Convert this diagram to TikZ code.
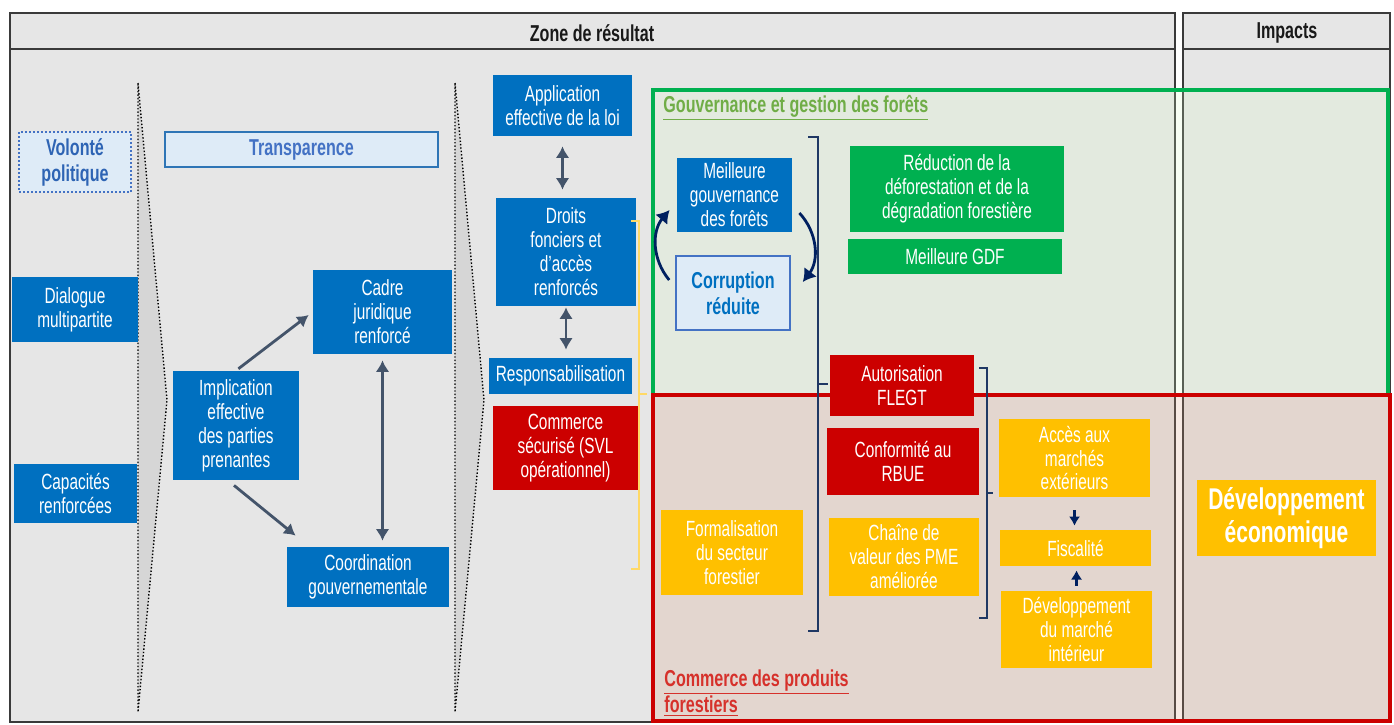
\documentclass[tikz,border=0pt]{standalone}
\usepackage{fontspec}
\setmainfont{Liberation Sans}[FakeStretch=0.7]
\usepackage{xcolor}
\usetikzlibrary{arrows.meta,positioning,calc}

\definecolor{boxblue}{HTML}{0070C0}
\definecolor{boxred}{HTML}{CC0000}
\definecolor{boxyellow}{HTML}{FFC000}
\definecolor{boxgreen}{HTML}{00B050}
\definecolor{paleblue}{HTML}{DEEBF7}
\definecolor{volblue}{HTML}{2E64B4}
\definecolor{dotblue}{HTML}{4472C4}
\definecolor{edgeblue}{HTML}{2E75B6}
\definecolor{arrowgray}{HTML}{44546A}
\definecolor{navy}{HTML}{1F3864}
\definecolor{cycnavy}{HTML}{002060}
\definecolor{panelgray}{HTML}{E6E6E6}
\definecolor{panelline}{HTML}{3A3A3A}
\definecolor{chevgray}{HTML}{D6D6D6}
\definecolor{greentitle}{HTML}{70AD47}
\definecolor{redtitle}{HTML}{D6312B}
\definecolor{bracketyellow}{HTML}{FFD966}
\definecolor{greentint}{RGB}{215,250,195}
\definecolor{redtint}{RGB}{215,150,115}

\begin{document}
\begin{tikzpicture}[x=0.5pt, y=-0.5pt,
  box/.style={align=center, inner sep=1pt, text=white, font=\fontsize{11}{12}\selectfont},
  bluebox/.style={box, fill=boxblue},
  redbox/.style={box, fill=boxred},
  yellowbox/.style={box, fill=boxyellow},
  greenbox/.style={box, fill=boxgreen},
  palebox/.style={box, fill=paleblue, font=\fontsize{11.5}{13}\selectfont\bfseries},
  panel/.style={draw=panelline, line width=0.8pt, fill=panelgray},
  chevron/.style={fill=chevgray, draw=black, densely dotted, line width=0.7pt},
  arrow/.style={-{Latex[length=2mm,width=2.4mm]}, line width=1.4pt, draw=arrowgray},
  twoarrow/.style={{Latex[length=2mm,width=2.4mm]}-{Latex[length=2mm,width=2.4mm]}, line width=1.4pt, draw=arrowgray},
  cycarrow/.style={-{Latex[length=2.2mm,width=2.8mm]}, line width=1.4pt, draw=cycnavy},
  smallarrow/.style={-{Latex[length=1.6mm,width=2mm]}, line width=1.4pt, draw=cycnavy},
  bracket/.style={line width=0.6pt},
  title/.style={font=\fontsize{11.5}{13}\selectfont\bfseries, inner sep=0pt}
]
\useasboundingbox (0,0) rectangle (1394,724);

\draw[panel] (10,13) rectangle (1175,722);
\draw[panelline, line width=0.8pt] (10,49) -- (1175,49);
\node[title, text=black!90] (zone) at (592,33) {Zone de résultat};
\draw[panel] (1183,13) rectangle (1390,722);
\draw[panelline, line width=0.8pt] (1183,49) -- (1390,49);
\node[title, text=black!90] (impacts) at (1287,33) {Impacts};

\draw[chevron] (138,83) -- (167,400) -- (138,712) -- cycle;
\draw[chevron] (455,83) -- (484,400) -- (455,712) -- cycle;

\fill[greentint, opacity=0.2] (653,90) rectangle (1388,395);
\fill[redtint, opacity=0.2] (653,395) rectangle (1390,721);
\draw[boxgreen, line width=1.6pt] (653,90) rectangle (1388,395);
\draw[boxred, line width=1.6pt] (653,395) rectangle (1390,721);
\node[title, text=greentitle, anchor=west] (gov) at (663,108) {\underline{Gouvernance et gestion des forêts}};
\node[title, text=redtitle, anchor=west, align=left] (trade) at (664,693) {\underline{Commerce des produits}\\\underline{forestiers}};

\node[palebox, draw=dotblue, densely dotted, line width=1pt, text=volblue, minimum width=56pt, minimum height=30pt] (vol) at (75,162) {Volonté\\politique};
\node[bluebox, minimum width=63pt, minimum height=32.5pt] (dial) at (75,309.5) {Dialogue\\multipartite};
\node[bluebox, minimum width=61.5pt, minimum height=29.5pt] (cap) at (75.5,493.5) {Capacités\\renforcées};

\node[palebox, draw=edgeblue, line width=0.8pt, text=dotblue, minimum width=136.5pt, minimum height=17.5pt] (transp) at (301.5,149.5) {Transparence};
\node[bluebox, minimum width=69.5pt, minimum height=42pt] (cadre) at (382.5,312) {Cadre\\juridique\\renforcé};
\node[bluebox, minimum width=63pt, minimum height=54.5pt] (impl) at (236,425.5) {Implication\\effective\\des parties\\prenantes};
\node[bluebox, minimum width=81pt, minimum height=30pt] (coord) at (368,577) {Coordination\\gouvernementale};

\node[bluebox, minimum width=69.5pt, minimum height=30.5pt] (appl) at (562.5,105.5) {Application\\effective de la loi};
\node[bluebox, minimum width=70pt, minimum height=54pt] (droits) at (566,252) {Droits\\fonciers et\\d’accès\\renforcés};
\node[bluebox, minimum width=71.5pt, minimum height=18pt] (resp) at (560.5,376) {Responsabilisation};
\node[redbox, minimum width=72.5pt, minimum height=42pt] (secur) at (565.5,448) {Commerce\\sécurisé (SVL\\opérationnel)};

\node[bluebox, minimum width=57.5pt, minimum height=37pt] (meil) at (734.5,195) {Meilleure\\gouvernance\\des forêts};
\node[palebox, draw=dotblue, line width=0.8pt, text=boxblue, minimum width=57pt, minimum height=37pt] (corr) at (733,293) {Corruption\\réduite};
\node[greenbox, minimum width=107pt, minimum height=43pt] (redu) at (957,189) {Réduction de la\\déforestation et de la\\dégradation forestière};
\node[greenbox, minimum width=107pt, minimum height=17.5pt] (gdf) at (955,256.5) {Meilleure GDF};

\node[redbox, minimum width=72pt, minimum height=30.5pt] (flegt) at (902,385.5) {Autorisation\\FLEGT};
\node[redbox, minimum width=76pt, minimum height=33.5pt] (rbue) at (903,461.5) {Conformité au\\RBUE};
\node[yellowbox, minimum width=75pt, minimum height=39pt] (pme) at (904,557) {Chaîne de\\valeur des PME\\améliorée};
\node[yellowbox, minimum width=71pt, minimum height=42.5pt] (formal) at (732,552.5) {Formalisation\\du secteur\\forestier};
\node[yellowbox, minimum width=75.5pt, minimum height=39pt] (acces) at (1074.5,458) {Accès aux\\marchés\\extérieurs};
\node[yellowbox, minimum width=75.5pt, minimum height=18pt] (fisc) at (1075.5,548) {Fiscalité};
\node[yellowbox, minimum width=75.5pt, minimum height=38.5pt] (devm) at (1076.5,629.5) {Développement\\du marché\\intérieur};
\node[yellowbox, font=\fontsize{15}{16.5}\selectfont\bfseries, minimum width=89.5pt, minimum height=38pt] (deveco) at (1286.5,518) {Développement\\économique};

\draw[arrow, shorten <=1.5pt, shorten >=2.5pt] (impl.north) -- (cadre.west);
\draw[arrow] ([shift={(-1pt,-2.5pt)}]impl.south) -- ([shift={(4.5pt,5.5pt)}]coord.north west);
\draw[twoarrow, shorten <=3pt, shorten >=3pt] (cadre.south) -- (cadre.south |- coord.north);
\draw[twoarrow, shorten <=5pt, shorten >=4pt] (appl.south) -- (appl.south |- droits.north);
\draw[twoarrow, shorten <=0.5pt, shorten >=4pt] (droits.south) -- (droits.south |- resp.north);

\draw[cycarrow] ([shift={(-3pt,6.5pt)}]corr.west) to[bend left=40] ([shift={(-3.5pt,-7.5pt)}]meil.west);
\draw[cycarrow] ([shift={(3.5pt,-9pt)}]meil.east) to[bend left=40] ([shift={(6pt,5.5pt)}]corr.east);
\draw[smallarrow, shorten <=6.5pt, shorten >=2pt] (acces.south) -- (acces.south |- fisc.north);
\draw[smallarrow, shorten <=2.5pt, shorten >=2pt] (devm.north) -- (devm.north |- fisc.south);

\draw[bracket, draw=bracketyellow] (631,221) -- (639,221) -- (639,569) -- (631,569);
\draw[bracket, draw=bracketyellow] (639,394) -- (647,394);
\draw[bracket, draw=navy] (808,137) -- (818,137) -- (818,631) -- (808,631);
\draw[bracket, draw=navy] (818,384) -- (828,384);
\draw[bracket, draw=navy] (979,368) -- (987,368) -- (987,618) -- (979,618);
\draw[bracket, draw=navy] (987,493) -- (993,493);
\end{tikzpicture}
\end{document}
